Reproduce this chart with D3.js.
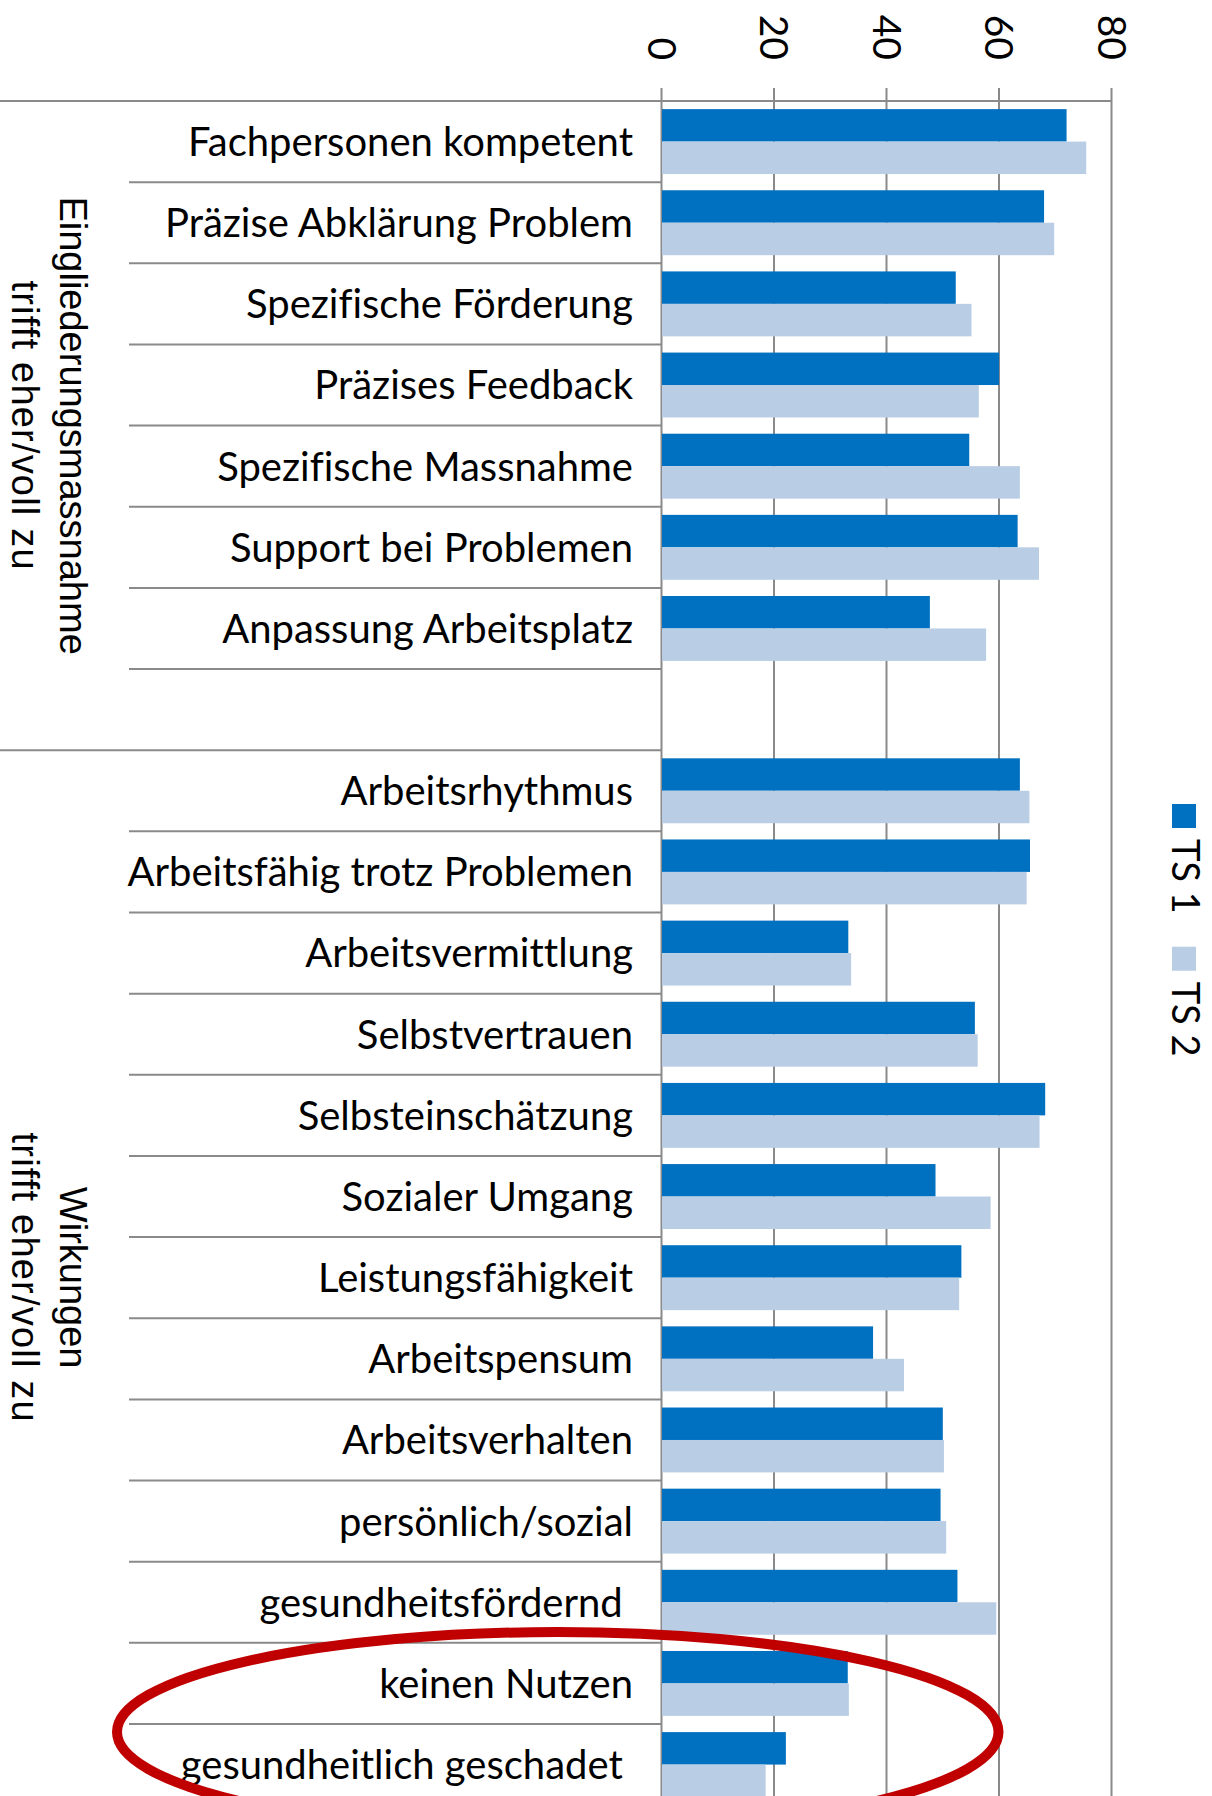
<!DOCTYPE html>
<html>
<head>
<meta charset="utf-8">
<script src="https://cdn.jsdelivr.net/npm/d3@7"></script>
<style>
  body { margin: 0; background: #fff; }
  text { white-space: pre; font-variant-ligatures: none; }
</style>
</head>
<body>
<div class="graphContainer"></div>
<script>
// Categories top to bottom (blank row closes the first group)
const categories = [
    'Fachpersonen kompetent', 'Präzise Abklärung Problem', 'Spezifische Förderung',
    'Präzises Feedback', 'Spezifische Massnahme', 'Support bei Problemen',
    'Anpassung Arbeitsplatz', '',
    'Arbeitsrhythmus', 'Arbeitsfähig trotz Problemen', 'Arbeitsvermittlung',
    'Selbstvertrauen', 'Selbsteinschätzung', 'Sozialer Umgang', 'Leistungsfähigkeit',
    'Arbeitspensum', 'Arbeitsverhalten', 'persönlich/sozial', 'gesundheitsfördernd ',
    'keinen Nutzen', 'gesundheitlich geschadet '
];
const ts1 = [72.1, 68.1, 52.4, 60.1, 54.8, 63.4, 47.8, null,
    63.8, 65.6, 33.3, 55.8, 68.3, 48.8, 53.4, 37.7, 50.1, 49.7, 52.7, 33.2, 22.2];
const ts2 = [75.6, 69.9, 55.2, 56.5, 63.8, 67.2, 57.8, null,
    65.5, 65.0, 33.8, 56.3, 67.3, 58.6, 53.0, 43.2, 50.3, 50.7, 59.6, 33.4, 18.6];
const seriesNames = ['TS 1', 'TS 2'];
const seriesColors = ['#0070C0', '#B9CDE5'];
const xTicks = [0, 20, 40, 60, 80];

// Outer category groups: label lines and first/last row index
const groupLines = [
    ['Eingliederungsmassnahme', 'trifft eher/voll zu'],
    ['Wirkungen', 'trifft eher/voll zu']
];
const groupStart = [0, 8];
const groupEnd = [7, 20];

// Rows circled in red
const circled = [19, 20];

const width = 1212;
const height = 1796;
const rowTop = 101;
const rowStep = 81.15;
const gridColor = '#8a8a8a';

const svg = d3.select('.graphContainer')
    .append('svg')
    .attr('width', width)
    .attr('height', height)
    .style('display', 'block');

// Scales
const x = d3.scaleLinear()
    .domain([0, 80])
    .range([661, 1111]);

const y = d3.scaleBand()
    .domain(d3.range(categories.length))
    .range([rowTop, rowTop + rowStep * categories.length]);

const ySub = d3.scaleBand()
    .domain(seriesNames)
    .range([0, y.bandwidth()])
    .paddingOuter(0.25);

// Value axis on top, ticks stretched into gridlines
const axis = svg.append('g')
    .attr('transform', `translate(0,${rowTop})`)
    .call(d3.axisTop(x).tickValues(xTicks).tickSizeInner(-(height - rowTop)).tickSizeOuter(0));
axis.select('.domain').remove();
axis.selectAll('.tick line')
    .attr('y1', -13)
    .attr('stroke', gridColor)
    .attr('stroke-width', 2);
axis.selectAll('.tick text')
    .attr('x', 0)
    .attr('y', 0)
    .attr('dy', '0.35em')
    .attr('text-anchor', 'end')
    .attr('transform', 'translate(0,-41) rotate(90)')
    .attr('font-family', 'Lato')
    .attr('font-size', 39)
    .attr('fill', '#000');

// Top frame line
svg.append('line')
    .attr('x1', 0).attr('x2', x(80))
    .attr('y1', rowTop).attr('y2', rowTop)
    .attr('stroke', gridColor).attr('stroke-width', 2);

// Category separators
const sepRows = d3.range(1, categories.length);
svg.selectAll('.sep')
    .data(sepRows)
    .enter()
    .append('line')
    .attr('class', 'sep')
    .attr('x1', i => groupStart.includes(i) ? 0 : 129)
    .attr('x2', x(0))
    .attr('y1', i => y(i))
    .attr('y2', i => y(i))
    .attr('stroke', gridColor)
    .attr('stroke-width', 2);

// Bars
[ts1, ts2].forEach((values, s) => {
    svg.selectAll(`.bar${s}`)
        .data(values.map((v, i) => ({ v, i })).filter(d => d.v !== null))
        .enter()
        .append('rect')
        .attr('x', x(0) + 1)
        .attr('y', d => y(d.i) + ySub(seriesNames[s]))
        .attr('width', d => x(d.v) - x(0) - 1)
        .attr('height', ySub.bandwidth())
        .attr('fill', seriesColors[s]);
});

// Category labels
svg.selectAll('.cat')
    .data(categories)
    .enter()
    .append('text')
    .attr('class', 'cat')
    .attr('x', x(0) - 28)
    .attr('y', (d, i) => y(i) + y.bandwidth() / 2)
    .attr('dy', '0.36em')
    .attr('text-anchor', 'end')
    .attr('font-family', 'Lato')
    .attr('font-size', 40)
    .attr('fill', '#000')
    .text(d => d);

// Group labels, rotated
groupLines.forEach((lines, g) => {
    const cy = (y(groupStart[g]) + y(groupEnd[g]) + y.bandwidth()) / 2;
    const gl = svg.append('g')
        .attr('transform', `translate(60,${cy}) rotate(90)`);
    lines.forEach((line, k) => {
        gl.append('text')
            .attr('x', 0)
            .attr('y', k * 48)
            .attr('text-anchor', 'middle')
            .attr('font-family', 'Liberation Sans')
            .attr('font-size', 38)
            .attr('letter-spacing', k === 1 ? 1.2 : 0)
            .attr('fill', '#000')
            .text(line);
    });
});

// Legend, rotated
const legend = svg.append('g')
    .attr('transform', 'translate(1172,804) rotate(90)');
let offset = 0;
seriesNames.forEach((name, s) => {
    legend.append('rect')
        .attr('x', offset)
        .attr('y', -24)
        .attr('width', 24)
        .attr('height', 24)
        .attr('fill', seriesColors[s]);
    const t = legend.append('text')
        .attr('x', offset + 35)
        .attr('y', 0)
        .attr('font-family', 'Lato')
        .attr('font-size', 38)
        .attr('fill', '#000')
        .text(name);
    offset += 35 + t.node().getComputedTextLength() + 33;
});

// Red ellipse around the circled rows
const ellTop = y(circled[0]);
const ellBottom = y(circled[circled.length - 1]) + y.bandwidth();
const ellLeft = 117;
const ellRight = x(60);
svg.append('ellipse')
    .attr('cx', (ellLeft + ellRight) / 2)
    .attr('cy', (ellTop + ellBottom) / 2 + 8)
    .attr('rx', (ellRight - ellLeft) / 2)
    .attr('ry', 100)
    .attr('fill', 'none')
    .attr('stroke', '#C00000')
    .attr('stroke-width', 10);
</script>
</body>
</html>
